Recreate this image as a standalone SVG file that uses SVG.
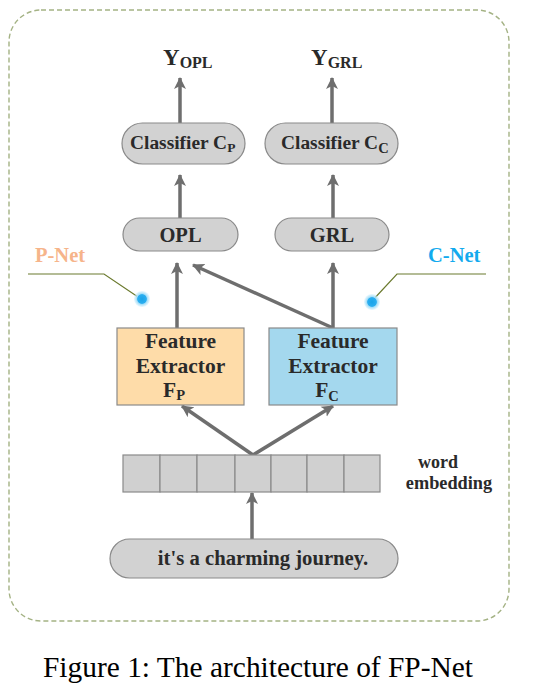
<svg xmlns="http://www.w3.org/2000/svg" width="538" height="693" viewBox="0 0 538 693">
<style>
text{font-family:"Liberation Serif","Times New Roman",serif;fill:#2a2a2a;font-weight:bold}
.pill{fill:#d2d2d2;stroke:#8a8a8a;stroke-width:1.2}
.conn{stroke:#6e6e6e;stroke-width:3.5;fill:none;marker-end:url(#ah)}
.lead{stroke:#6b7a2e;stroke-width:1.2;fill:none}
.cell{fill:#d0d0d0;stroke:#8a8a8a;stroke-width:1.2}
</style>
<defs>
<marker id="ah" markerUnits="userSpaceOnUse" markerWidth="14" markerHeight="14" refX="11" refY="7" orient="auto">
<path d="M0,1 L12,7 L0,13 L3,7 Z" fill="#6e6e6e"/>
</marker>
<radialGradient id="dot">
<stop offset="0" stop-color="#1aa3e8"/>
<stop offset="0.55" stop-color="#2aaef0"/>
<stop offset="0.65" stop-color="#9fdcf8"/>
<stop offset="1" stop-color="#c8ecfb" stop-opacity="0.4"/>
</radialGradient>
</defs>
<rect x="0" y="0" width="538" height="693" fill="#fff"/>
<rect id="frame" x="9" y="10" width="500" height="611" rx="32" ry="32" fill="none" stroke="#a4b284" stroke-width="1.4" stroke-dasharray="5,3"/>

<g id="connectors">
<line class="conn" x1="180" y1="123" x2="180" y2="78"/>
<line class="conn" x1="332" y1="123" x2="332" y2="78"/>
<line class="conn" x1="180" y1="218" x2="180" y2="175"/>
<line class="conn" x1="333" y1="218" x2="333" y2="175"/>
<line class="conn" x1="177" y1="328" x2="177" y2="263"/>
<line class="conn" x1="333" y1="328" x2="333" y2="263"/>
<line class="conn" x1="333" y1="328" x2="193" y2="265"/>
<line class="conn" x1="253" y1="455" x2="182" y2="406"/>
<line class="conn" x1="253" y1="455" x2="333" y2="406"/>
<line class="conn" x1="252" y1="539" x2="252" y2="493"/>
</g>

<g id="y-opl"><text x="163" y="65" font-size="23">Y<tspan font-size="16" dy="3">OPL</tspan></text></g>
<g id="y-grl"><text x="311" y="65" font-size="23">Y<tspan font-size="16" dy="3">GRL</tspan></text></g>

<g id="classifier-p">
<rect class="pill" x="122" y="123" width="123" height="41" rx="20.5"/>
<text x="130" y="149" font-size="19.4">Classifier C<tspan font-size="13.5" dy="3">P</tspan></text>
</g>
<g id="classifier-c">
<rect class="pill" x="265" y="123" width="133" height="41" rx="20.5"/>
<text x="281" y="149" font-size="19.4">Classifier C<tspan font-size="14.5" dy="4">C</tspan></text>
</g>

<g id="opl">
<rect class="pill" x="123" y="218" width="115" height="33" rx="16.5"/>
<text x="180.5" y="242" font-size="20.5" text-anchor="middle">OPL</text>
</g>
<g id="grl">
<rect class="pill" x="275" y="218" width="114" height="33" rx="16.5"/>
<text x="332" y="242" font-size="20.5" text-anchor="middle">GRL</text>
</g>

<g id="p-net">
<text x="35" y="262" font-size="20.5" style="fill:#f6b48a">P-Net</text>
<polyline class="lead" points="28,274 104,274 141,299"/>
<circle cx="142" cy="299" r="8" fill="url(#dot)"/>
</g>
<g id="c-net">
<text x="428" y="262" font-size="20.5" style="fill:#12aaee">C-Net</text>
<polyline class="lead" points="486,274 397,274 372,301"/>
<circle cx="372" cy="302" r="8" fill="url(#dot)"/>
</g>

<g id="feature-p">
<rect x="117" y="328" width="127" height="77" fill="#fedca9" stroke="#8a8a8a" stroke-width="1.2"/>
<text x="180.5" y="348" font-size="21.5" text-anchor="middle">Feature</text>
<text x="180.5" y="373" font-size="21.5" text-anchor="middle">Extractor</text>
<text x="174" y="397" font-size="21.5" text-anchor="middle">F<tspan font-size="14.5" dy="3">P</tspan></text>
</g>
<g id="feature-c">
<rect x="269" y="328" width="128" height="77" fill="#a4d8ee" stroke="#8a8a8a" stroke-width="1.2"/>
<text x="333" y="348" font-size="21.5" text-anchor="middle">Feature</text>
<text x="333" y="373" font-size="21.5" text-anchor="middle">Extractor</text>
<text x="327" y="397" font-size="21.5" text-anchor="middle">F<tspan font-size="14.5" dy="4">C</tspan></text>
</g>

<g id="embedding">
<rect class="cell" x="123" y="455" width="37" height="37"/>
<rect class="cell" x="160" y="455" width="37" height="37"/>
<rect class="cell" x="197" y="455" width="38" height="37"/>
<rect class="cell" x="235" y="455" width="36" height="37"/>
<rect class="cell" x="271" y="455" width="36" height="37"/>
<rect class="cell" x="307" y="455" width="37" height="37"/>
<rect class="cell" x="344" y="455" width="36" height="37"/>
<text x="438" y="468" font-size="18" text-anchor="middle">word</text>
<text x="449" y="489" font-size="18.3" text-anchor="middle">embedding</text>
</g>

<g id="sentence">
<rect class="pill" x="110" y="539" width="288" height="39" rx="19.5"/>
<text x="263" y="565" font-size="20.7" text-anchor="middle">it's a charming journey.</text>
</g>

<text id="caption" x="258" y="677" font-size="28.5" text-anchor="middle" textLength="430" lengthAdjust="spacingAndGlyphs" style="font-weight:normal;fill:#000">Figure 1: The architecture of FP-Net</text>
</svg>
